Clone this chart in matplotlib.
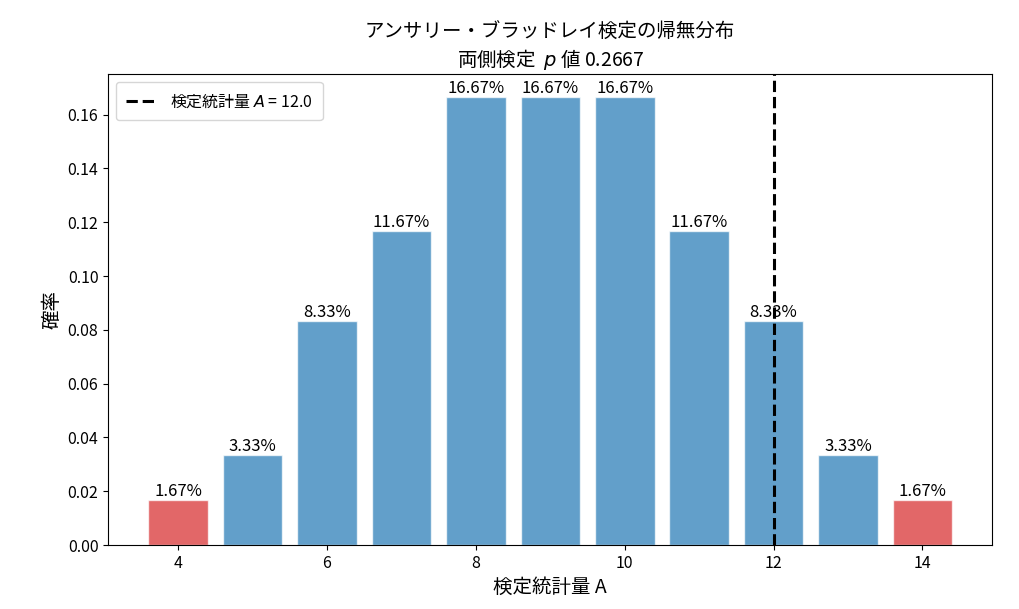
import matplotlib
matplotlib.use("Agg")
import matplotlib.pyplot as plt
import numpy as np

plt.rcParams['font.family'] = ['Noto Sans CJK JP', 'DejaVu Sans']

# 帰無分布 (A = 4..14, 60通り)
a_values = np.arange(4, 15)
counts = np.array([1, 2, 5, 7, 10, 10, 10, 7, 5, 2, 1])
probs = counts / counts.sum()
reject = [4, 14]
a_obs = 12.0
p_value = 0.2667

colors = ['tab:red' if a in reject else 'tab:blue' for a in a_values]

fig, ax = plt.subplots(figsize=(10.2, 6.09), dpi=100)
bars = ax.bar(a_values, probs, width=0.8, color=colors, alpha=0.7, edgecolor='white')
for b, p in zip(bars, probs):
    ax.text(b.get_x() + b.get_width() / 2, b.get_height(), f"{p*100:.2f}%",
            ha='center', va='bottom', fontsize=12)

ax.axvline(a_obs, color='black', linestyle='--', linewidth=2.2,
           label=f"検定統計量 $A$ = {a_obs}")
ax.set_title(f"アンサリー・ブラッドレイ検定の帰無分布\n両側検定  $p$ 値 {p_value}", fontsize=14)
ax.set_xlabel("検定統計量 A", fontsize=14)
ax.set_ylabel("確率", fontsize=14)
ax.tick_params(labelsize=11.5)
ax.legend(loc='upper left', fontsize=11.5, borderpad=0.6)

fig.subplots_adjust(left=0.106, right=0.973, top=0.878, bottom=0.105)
fig.savefig("out.png")
